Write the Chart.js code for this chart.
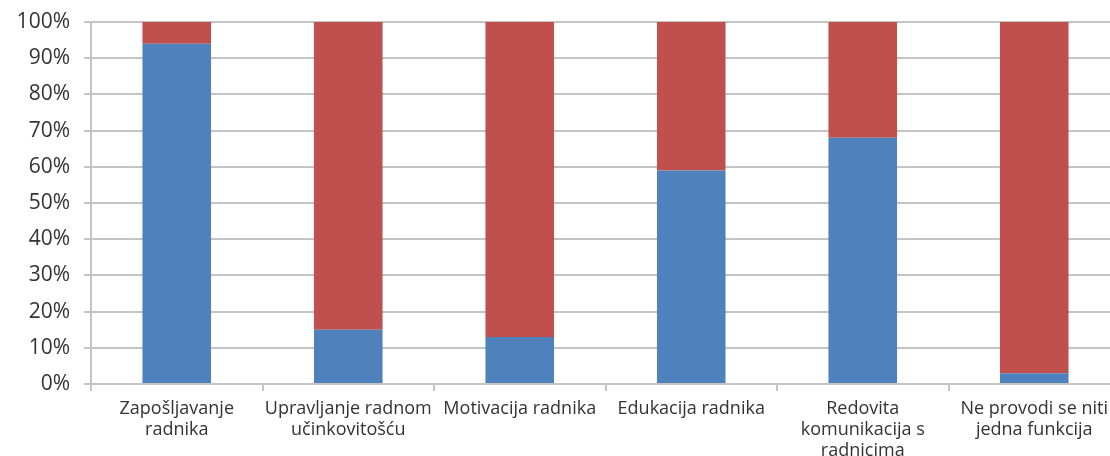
<!DOCTYPE html>
<html>
<head>
<meta charset="utf-8">
<script src="https://cdn.jsdelivr.net/npm/chart.js@4.4.0/dist/chart.umd.min.js"></script>
<style>
    html, body { margin: 0; padding: 0; background: #fff; }
    /* the original plot runs a little past the right edge of the image */
    #wrap { width: 1110px; height: 456px; overflow: hidden; }
</style>
</head>
<body>
<div id="wrap"><canvas id="chart" width="1120" height="456"></canvas></div>
<script>
// Data
const categories = [
    ['Zapošljavanje', 'radnika'],
    ['Upravljanje radnom', 'učinkovitošću'],
    'Motivacija radnika',
    'Edukacija radnika',
    ['Redovita', 'komunikacija s', 'radnicima'],
    ['Ne provodi se niti', 'jedna funkcija']
];
const blueValues = [94, 15, 13, 59, 68, 3];
const redValues = [6, 85, 87, 41, 32, 97];
const yTicks = [0, 10, 20, 30, 40, 50, 60, 70, 80, 90, 100];

const gridColor = '#c4c4c4';

document.addEventListener('DOMContentLoaded', () => {
    const ctx = document.getElementById('chart').getContext('2d');
    new Chart(ctx, {
        type: 'bar',
        data: {
            labels: categories,
            datasets: [{
                label: 'Da',
                data: blueValues,
                backgroundColor: '#4f81bd',
                categoryPercentage: 1,
                barPercentage: 0.4
            }, {
                label: 'Ne',
                data: redValues,
                backgroundColor: '#c0504d',
                categoryPercentage: 1,
                barPercentage: 0.4
            }]
        },
        options: {
            responsive: false,
            animation: false,
            layout: { padding: { top: 22, right: 0, left: 0, bottom: 0 } },
            plugins: {
                legend: { display: false },
                tooltip: { enabled: false }
            },
            scales: {
                x: {
                    stacked: true,
                    offset: true,
                    border: { color: gridColor, width: 2 },
                    grid: {
                        offset: true,
                        drawOnChartArea: false,
                        color: gridColor,
                        lineWidth: 2,
                        tickLength: 7
                    },
                    ticks: {
                        maxRotation: 0,
                        autoSkip: false,
                        padding: 8,
                        color: '#333333',
                        font: { family: 'Open Sans', size: 18, lineHeight: 1.15 }
                    },
                    afterFit: scale => { scale.height = 72; }
                },
                y: {
                    stacked: true,
                    min: 0,
                    max: 100,
                    afterBuildTicks: scale => {
                        scale.ticks = yTicks.map(v => ({ value: v }));
                    },
                    border: { color: gridColor, width: 2 },
                    grid: {
                        color: gridColor,
                        lineWidth: 2,
                        tickLength: 7
                    },
                    ticks: {
                        padding: 14,
                        color: '#333333',
                        font: { family: 'Open Sans', size: 21 },
                        callback: v => v + '%'
                    },
                    afterFit: scale => {
                        scale.width = 91;
                        scale.paddingTop = 0;
                        scale.paddingBottom = 0;
                    }
                }
            }
        }
    });
});
</script>
</body>
</html>
